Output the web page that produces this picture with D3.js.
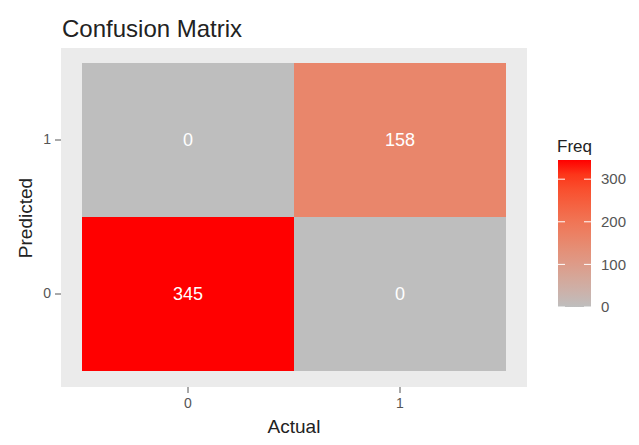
<!DOCTYPE html>
<html><head><meta charset="utf-8">
<script src="https://cdn.jsdelivr.net/npm/d3@7"></script>
<style>body{margin:0;background:#fff;font-family:"Liberation Sans",Arial,sans-serif}</style>
</head><body>
<script>
const actual = ["0","1"];
const predicted = ["0","1"];
const cells = [
  {actual:"0", predicted:"0", freq:345},
  {actual:"1", predicted:"0", freq:0},
  {actual:"0", predicted:"1", freq:0},
  {actual:"1", predicted:"1", freq:158}
];
const legendTicks = [0,100,200,300];
const freqMax = 345;

const W=639,H=445;
const svg=d3.select("body").append("svg").attr("width",W).attr("height",H);
const panel={x0:61,x1:527,y0:48,y1:387};
const x=d3.scaleBand().domain(actual).range([82,506]).padding(0);
const y=d3.scaleBand().domain(predicted.slice().reverse()).range([63,371]).padding(0);
const color=d3.scaleLinear().domain([0,freqMax]).range(["#bebebe","#ff0000"]).interpolate(d3.interpolateLab);

svg.append("rect").attr("x",panel.x0).attr("y",panel.y0).attr("width",panel.x1-panel.x0).attr("height",panel.y1-panel.y0).attr("fill","#ebebeb");

svg.selectAll("rect.tile").data(cells).enter().append("rect").attr("class","tile")
  .attr("x",d=>x(d.actual)).attr("y",d=>y(d.predicted))
  .attr("width",x.bandwidth()).attr("height",y.bandwidth())
  .attr("fill",d=>color(d.freq));
svg.selectAll("text.val").data(cells).enter().append("text").attr("class","val")
  .attr("x",d=>x(d.actual)+x.bandwidth()/2).attr("y",d=>y(d.predicted)+y.bandwidth()/2)
  .attr("dy","0.35em").attr("text-anchor","middle").attr("fill","#fff").attr("font-size",18)
  .text(d=>d.freq);

// axes
const xa=svg.append("g").attr("transform",`translate(0,${panel.y1})`).call(d3.axisBottom(x).tickSize(6).tickPadding(5));
const ya=svg.append("g").attr("transform",`translate(${panel.x0},0)`).call(d3.axisLeft(y).tickSize(6).tickPadding(4));
[xa,ya].forEach(a=>{a.attr("font-size",14);a.select(".domain").remove();a.selectAll("line").attr("stroke","#555");a.selectAll("text").attr("fill","#555").attr("font-size",14).attr("font-family","Liberation Sans, Arial, sans-serif");});

svg.append("text").attr("x",294).attr("y",433).attr("text-anchor","middle").attr("font-size",19).attr("fill","#222").text("Actual");
svg.append("text").attr("transform","translate(32,218) rotate(-90)").attr("text-anchor","middle").attr("font-size",19).attr("fill","#222").text("Predicted");
svg.append("text").attr("x",62).attr("y",37).attr("font-size",24).attr("fill","#222").text("Confusion Matrix");

// legend
const lg=svg.append("g");
lg.append("text").attr("x",557).attr("y",152).attr("font-size",17).attr("fill","#222").text("Freq");
const ly=d3.scaleLinear().domain([0,freqMax]).range([307,160]);
const defs=svg.append("defs");
const grad=defs.append("linearGradient").attr("id","g").attr("x1",0).attr("x2",0).attr("y1",1).attr("y2",0);
d3.range(0,1.0001,0.1).forEach(t=>grad.append("stop").attr("offset",t).attr("stop-color",color(t*freqMax)));
lg.append("rect").attr("x",558).attr("y",ly(freqMax)).attr("width",33).attr("height",ly(0)-ly(freqMax)).attr("fill","url(#g)");
legendTicks.forEach(v=>{
  lg.append("line").attr("x1",558).attr("x2",565).attr("y1",ly(v)).attr("y2",ly(v)).attr("stroke","#fff");
  lg.append("line").attr("x1",584).attr("x2",591).attr("y1",ly(v)).attr("y2",ly(v)).attr("stroke","#fff");
  lg.append("text").attr("x",601).attr("y",ly(v)).attr("dy","0.35em").attr("font-size",15).attr("fill","#555").text(v);
});
</script>
</body></html>
